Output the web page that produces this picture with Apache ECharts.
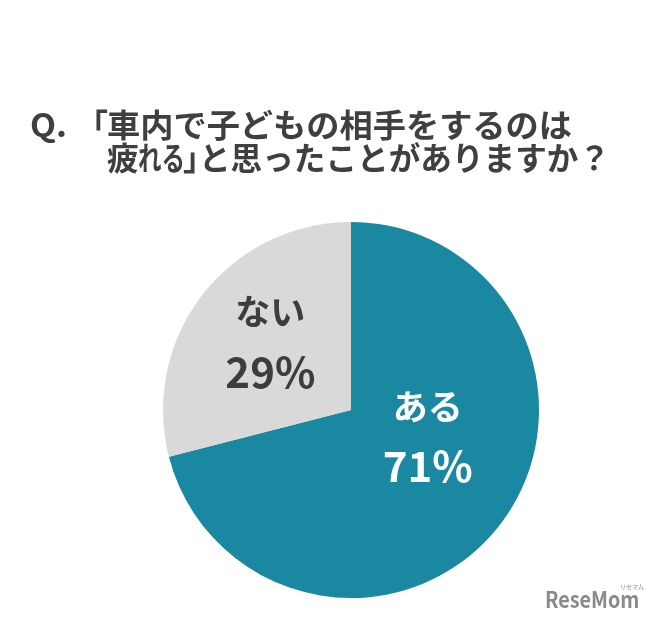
<!DOCTYPE html>
<html><head><meta charset="utf-8">
<script src="https://cdn.jsdelivr.net/npm/echarts@6/dist/echarts.min.js"></script>
<style>html,body{margin:0;padding:0;background:#fff}#c{width:655px;height:623px}</style>
</head><body><div id="c"></div>
<script>
const titleLine1 = ['Q.', '「', '車内で子どもの相手をするのは'];
const titleLine2 = ['疲', 'れる', '」', 'と思ったことがありますか？'];
const categories = ['ある', 'ない'];
const values = [71, 29];
const watermark = 'ReseMom';
const watermarkSub = 'リセマム';

const colors = ['#1B88A1', '#D9D9D9'];
const labelColors = ['#ffffff', '#3d3d3d'];
const labelOffsets = [[0, -33], [-4, -9]];

const font = '"Noto Sans CJK JP", "Noto Sans", sans-serif';
const titleFont = 'bold 32px ' + font;
const ctx = document.createElement('canvas').getContext('2d');
function seg(text, left, right, y, align) {
  ctx.font = titleFont;
  const w = ctx.measureText(text).width;
  if (align === 'right') {
    return {type: 'text', x: right, y: y, style: {text: text, font: titleFont, fill: '#3f3f3f', textAlign: 'right', textVerticalAlign: 'middle'}};
  }
  return {type: 'text', x: left, y: y, scaleX: (right - left) / w,
    style: {text: text, font: titleFont, fill: '#3f3f3f', textVerticalAlign: 'middle'}};
}
const L1 = 125, L2 = 158;
const titleGraphics = [
  seg(titleLine1[0], 30, 67, L1),
  seg(titleLine1[1], 0, 108, L1, 'right'),
  seg(titleLine1[2], 107, 572, L1),
  seg(titleLine2[0], 107, 139, L2),
  seg(titleLine2[1], 138, 185, L2),
  seg(titleLine2[2], 0, 215, L2, 'right'),
  seg(titleLine2[3], 199, 610, L2)
];

const chart = echarts.init(document.getElementById('c'), null, {renderer: 'canvas'});
chart.setOption({
  backgroundColor: '#ffffff',
  animation: false,
  graphic: titleGraphics.concat([
    {type: 'text', x: 545, y: 600, scaleX: 0.9, style: {text: watermark, font: 'bold 22px ' + font, fill: '#8a8a8a', textVerticalAlign: 'middle'}},
    {type: 'text', x: 620, y: 587, style: {text: watermarkSub, font: '6px ' + font, fill: '#8a8a8a', textVerticalAlign: 'middle'}}
  ]),
  series: [{
    type: 'pie',
    center: [351, 410],
    radius: 188,
    startAngle: 90,
    clockwise: true,
    silent: true,
    label: {
      position: 'inside',
      formatter: p => '{n|' + p.name + '}\n{v|' + p.value + '%}',
      rich: {
        n: {fontFamily: font, fontWeight: 'bold', fontSize: 35, lineHeight: 60},
        v: {fontFamily: font, fontWeight: 'bold', fontSize: 42, lineHeight: 60}
      }
    },
    labelLine: {show: false},
    data: categories.map((c, i) => ({
      name: c,
      value: values[i],
      itemStyle: {color: colors[i]},
      label: {color: labelColors[i], offset: labelOffsets[i], rich: {n: {color: labelColors[i]}, v: {color: labelColors[i]}}}
    }))
  }]
});
</script></body></html>
